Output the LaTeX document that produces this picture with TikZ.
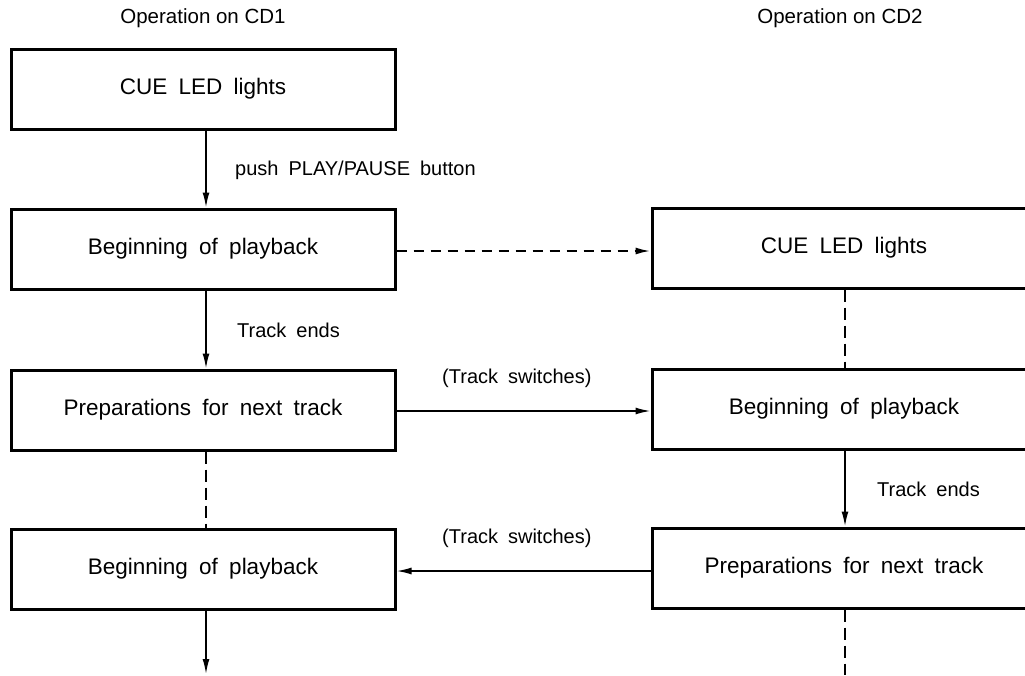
\documentclass[tikz,border=0pt]{standalone}
\usepackage{fontspec}
\setmainfont[WordSpace=1.8]{Liberation Sans}
\newfontfamily\titlefont{Liberation Sans}
\usetikzlibrary{arrows.meta}
\begin{document}
\begin{tikzpicture}[x=1pt,y=-1pt,
  box/.style={draw, line width=3pt, minimum width=384pt, minimum height=80pt, inner sep=0pt, font=\fontsize{22.5}{26}\selectfont},
  lbl/.style={font=\fontsize{20}{24}\selectfont, inner sep=0pt},
  ttl/.style={font=\titlefont\fontsize{20.5}{24}\selectfont, inner sep=0pt},
  arr/.style={line width=1.7pt, -{Latex[length=15pt,width=7pt]}},
  darr/.style={line width=2pt, dash pattern=on 10pt off 7pt, -{Latex[length=15pt,width=7pt]}},
  dln/.style={line width=2pt, dash pattern=on 12pt off 6pt}]
\useasboundingbox (0,0) rectangle (1025,675);
\clip (0,0) rectangle (1025,675);
% titles
\node[ttl] (t1) at (203,18) {Operation on CD1};
\node[ttl] (t2) at (840,18) {Operation on CD2};
% left column
\node[box] (L1) at (203,89) {CUE LED lights};
\node[box] (L2) at (203,249) {Beginning of playback};
\node[box] (L3) at (203,410) {Preparations for next track};
\node[box] (L4) at (203,569) {Beginning of playback};
% right column
\node[box] (R1) at (844,248) {CUE LED lights};
\node[box] (R2) at (844,409) {Beginning of playback};
\node[box] (R3) at (844,568) {Preparations for next track};
% helper coordinates
\coordinate (ax) at (206,0);
\coordinate (bx) at (845,0);
\coordinate (endL) at (206,674);
\coordinate (endR) at (845,675);
% left vertical connectors
\draw[arr] (L1.south -| ax) -- (L2.north -| ax);
\draw[arr] (L2.south -| ax) -- (L3.north -| ax);
\draw[dln] (L3.south -| ax) -- (L4.north -| ax);
\draw[arr] (L4.south -| ax) -- (endL);
% right vertical connectors
\draw[dln] (R1.south -| bx) -- (R2.north -| bx);
\draw[arr] (R2.south -| bx) -- (R3.north -| bx);
\draw[dln] (R3.south -| bx) -- (endR);
% horizontal connectors
\draw[darr] (L2.east |- 0,251) -- (R1.west |- 0,251);
\draw[arr] (L3.east |- 0,411) -- (R2.west |- 0,411);
\draw[arr] (R3.west |- 0,571) -- (L4.east |- 0,571);
% labels
\node[lbl, anchor=west] (p1) at (235,170) {push PLAY/PAUSE button};
\node[lbl, anchor=west] (p2) at (237,330) {Track ends};
\node[lbl, anchor=west] (p3) at (442,378) {(Track switches)};
\node[lbl, anchor=west] (p4) at (877,489) {Track ends};
\node[lbl, anchor=west] (p5) at (442,538) {(Track switches)};
\end{tikzpicture}
\end{document}
